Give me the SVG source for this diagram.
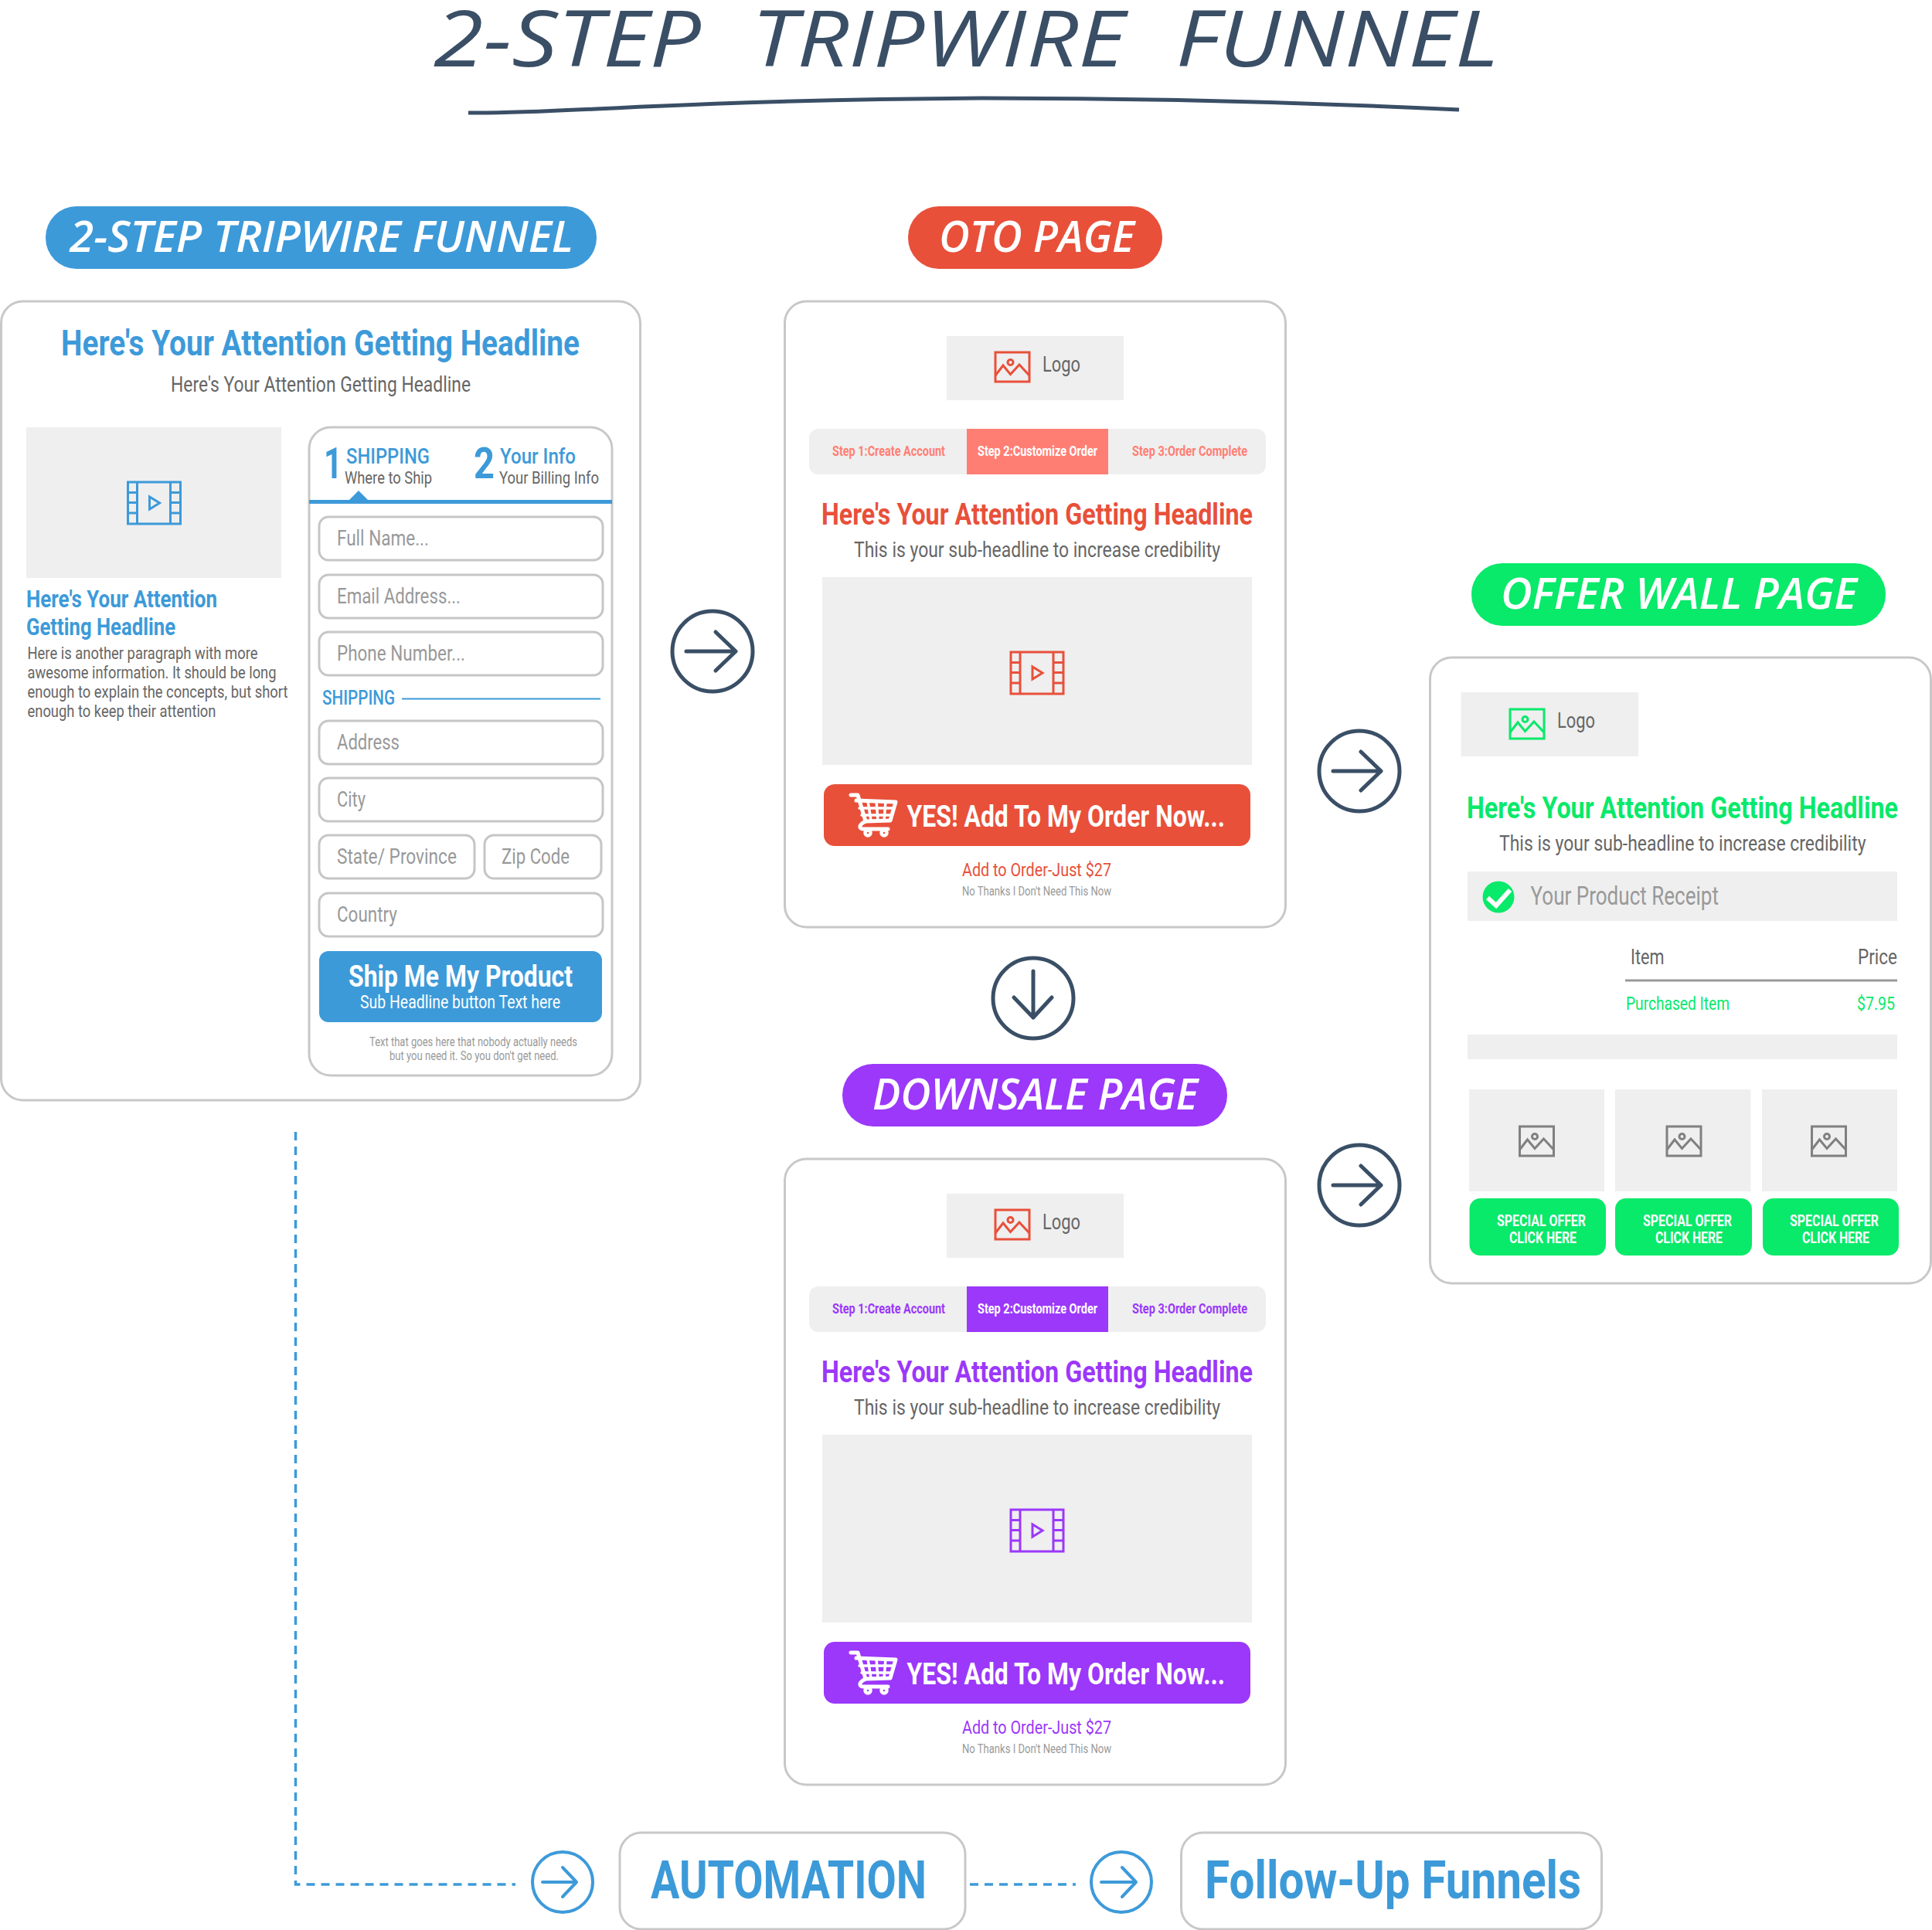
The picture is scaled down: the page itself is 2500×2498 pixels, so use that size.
<svg xmlns="http://www.w3.org/2000/svg" width="2500" height="2498" viewBox="0 0 2500 2498">
<style>
text{font-family:Roboto,"Liberation Sans",sans-serif;font-weight:400}
.hand{font-family:"Open Sans","Liberation Sans",sans-serif;font-style:italic;font-weight:600;fill:#fff}
.card{fill:#fff;stroke:#c8c8c8;stroke-width:3}
.field{fill:#fff;stroke:#c6c6c6;stroke-width:3}
.gray{fill:#efefef}
.b{font-weight:700}.m{font-weight:500}.l{font-weight:300}
.ph{fill:#999;font-size:28px}
.dk{fill:#666}
.blue{fill:#3d9ad9}.red{fill:#e8503a}.pur{fill:#9b38fa}.grn{fill:#09e96a}.sal{fill:#ff7e73}.wht{fill:#fff}.mid{fill:#999}
.ico{fill:none;stroke:currentColor;stroke-width:3}
.arrow{fill:none;stroke:#3a4f66;stroke-width:5;stroke-linecap:round;stroke-linejoin:round}
.arrowb{fill:none;stroke:#3d9ad9;stroke-width:4;stroke-linecap:round;stroke-linejoin:round}
.dash{fill:none;stroke:#3d9ad9;stroke-width:3.5;stroke-dasharray:11 8}
</style>
<defs>
<symbol id="film" viewBox="0 0 70 56" width="70" height="56" overflow="visible">
<g class="ico"><rect x="1" y="1" width="68" height="54"/><path d="M13 1V55M56 1V55M1 14.500H13M1 27.500H13M1 41H13M56 14.500H69M56 27.500H69M56 41H69"/><path d="M29 20V36L42 28Z"/></g>
</symbol>
<symbol id="pic" viewBox="0 0 46 40" width="46" height="40" overflow="visible">
<g class="ico"><rect x="1" y="1" width="44" height="38"/><circle cx="20.500" cy="14" r="3.500"/><path d="M1 31L11 18L20.500 29.500L32 17L45 31"/></g>
</symbol>
<symbol id="cart" viewBox="0 0 62 57" width="62" height="57" overflow="visible">
<g fill="none" stroke="#fff" stroke-linecap="round" stroke-linejoin="round"><path stroke-width="5" d="M2 3H11L21 37Q13 41 14 45Q15 47 18 47H50"/><path stroke-width="5" d="M9 10L60 12L53 36L21 37"/><path stroke-width="3.500" d="M13 20H57M16 29H55M24 11L28 36M35 11L37 36M47 11L45 36"/><circle stroke-width="4.500" cx="24" cy="52" r="3.500"/><circle stroke-width="4.500" cx="45" cy="52" r="3.500"/></g>
</symbol>
</defs>
<rect width="2500" height="2498" fill="#fff"/>

<g id="title">
<text x="561" y="86" font-size="100" textLength="1378" lengthAdjust="spacingAndGlyphs" class="hand" style="fill:#3a4f66;font-weight:500" word-spacing="30">2-STEP TRIPWIRE FUNNEL</text>
<path d="M606 146C720 148 860 130 1270 127C1500 127 1700 133 1888 142" fill="none" stroke="#3a4f66" stroke-width="5"/>
</g>

<g id="label-tripwire"><rect x="59" y="267" width="713" height="81" rx="40" class="blue"/>
<text x="90" y="326" font-size="56" textLength="652" lengthAdjust="spacingAndGlyphs" class="hand">2-STEP TRIPWIRE FUNNEL</text></g>
<g id="label-oto"><rect x="1175" y="267" width="329" height="81" rx="40" class="red"/>
<text x="1215" y="326" font-size="56" textLength="253" lengthAdjust="spacingAndGlyphs" class="hand">OTO PAGE</text></g>
<g id="label-downsale"><rect x="1090" y="1377" width="498" height="81" rx="40" class="pur"/>
<text x="1129" y="1436" font-size="56" textLength="421" lengthAdjust="spacingAndGlyphs" class="hand">DOWNSALE PAGE</text></g>
<g id="label-offer"><rect x="1904" y="729" width="536" height="81" rx="40" class="grn"/>
<text x="1942" y="788" font-size="56" textLength="461" lengthAdjust="spacingAndGlyphs" class="hand">OFFER WALL PAGE</text></g>

<g id="connectors">
<circle cx="922" cy="843" r="52" class="arrow"/><path d="M888 843H952M926 818L952 843L926 868" class="arrow"/>
<circle cx="1759" cy="998" r="52" class="arrow"/><path d="M1725 998H1787M1761 973L1787 998L1761 1023" class="arrow"/>
<circle cx="1759" cy="1534" r="52" class="arrow"/><path d="M1725 1534H1787M1761 1509L1787 1534L1761 1559" class="arrow"/>
<circle cx="1337" cy="1292" r="52" class="arrow"/><path d="M1337 1257V1317M1312 1291L1337 1317L1361 1291" class="arrow"/>
<path d="M382.500 1465V2439H667" class="dash"/>
<path d="M1255 2439H1392" class="dash"/>
<circle cx="728" cy="2436" r="39" class="arrowb"/><path d="M702 2436H746M728 2417L746 2436L728 2455" class="arrowb"/>
<circle cx="1451" cy="2436" r="39" class="arrowb"/><path d="M1425 2436H1470M1452 2417L1470 2436L1452 2455" class="arrowb"/>
</g>

<g id="page-tripwire">
<rect x="1.500" y="390" width="827" height="1034" rx="28" class="card"/>
<text x="79" y="460" font-size="46" textLength="671" lengthAdjust="spacingAndGlyphs" class="b blue">Here's Your Attention Getting Headline</text>
<text x="221" y="507" font-size="28" textLength="388" lengthAdjust="spacingAndGlyphs" class="dk">Here's Your Attention Getting Headline</text>
<rect x="34" y="553" width="330" height="195" class="gray"/>
<use href="#film" x="164.500" y="623" style="color:#3d9ad9"/>
<text x="34" y="786" font-size="31" textLength="247" lengthAdjust="spacingAndGlyphs" class="b blue">Here's Your Attention</text>
<text x="34" y="822" font-size="31" textLength="193" lengthAdjust="spacingAndGlyphs" class="b blue">Getting Headline</text>
<text x="35.500" y="853" font-size="22" textLength="298" lengthAdjust="spacingAndGlyphs" class="dk">Here is another paragraph with more</text>
<text x="35.500" y="878" font-size="22" textLength="322" lengthAdjust="spacingAndGlyphs" class="dk">awesome information. It should be long</text>
<text x="35.500" y="903" font-size="22" textLength="337" lengthAdjust="spacingAndGlyphs" class="dk">enough to explain the concepts, but short</text>
<text x="35.500" y="928" font-size="22" textLength="244" lengthAdjust="spacingAndGlyphs" class="dk">enough to keep their attention</text>
</g>

<g id="form">
<rect x="400" y="553" width="392" height="839" rx="28" class="card"/>
<rect x="400" y="647" width="392" height="5" class="blue"/>
<path d="M452 647L464 635L476 647Z" class="blue"/>
<text x="419" y="619" font-size="56" textLength="24" lengthAdjust="spacingAndGlyphs" class="b blue">1</text>
<text x="448" y="600" font-size="27" textLength="108" lengthAdjust="spacingAndGlyphs" class="m blue">SHIPPING</text>
<text x="446" y="625.500" font-size="22" textLength="113" lengthAdjust="spacingAndGlyphs" class="dk">Where to Ship</text>
<text x="613" y="619" font-size="56" textLength="27" lengthAdjust="spacingAndGlyphs" class="b blue">2</text>
<text x="647" y="600" font-size="27" textLength="98" lengthAdjust="spacingAndGlyphs" class="m blue">Your Info</text>
<text x="646" y="625.500" font-size="22" textLength="129" lengthAdjust="spacingAndGlyphs" class="dk">Your Billing Info</text>
<rect x="413" y="669" width="367" height="56" rx="12" class="field"/>
<text x="436" y="706" textLength="119" lengthAdjust="spacingAndGlyphs" class="ph">Full Name...</text>
<rect x="413" y="744" width="367" height="56" rx="12" class="field"/>
<text x="436" y="781" textLength="160" lengthAdjust="spacingAndGlyphs" class="ph">Email Address...</text>
<rect x="413" y="818" width="367" height="56" rx="12" class="field"/>
<text x="436" y="855" textLength="166" lengthAdjust="spacingAndGlyphs" class="ph">Phone Number...</text>
<text x="417" y="912" font-size="25" textLength="94" lengthAdjust="spacingAndGlyphs" class="m blue">SHIPPING</text>
<path d="M520 904.500H777" stroke="#3d9ad9" stroke-width="2" fill="none"/>
<rect x="413" y="933" width="367" height="56" rx="12" class="field"/>
<text x="436" y="970" textLength="81" lengthAdjust="spacingAndGlyphs" class="ph">Address</text>
<rect x="413" y="1007" width="367" height="56" rx="12" class="field"/>
<text x="436" y="1044" textLength="37" lengthAdjust="spacingAndGlyphs" class="ph">City</text>
<rect x="413" y="1081" width="201" height="56" rx="12" class="field"/>
<text x="436" y="1118" textLength="155" lengthAdjust="spacingAndGlyphs" class="ph">State/ Province</text>
<rect x="627" y="1081" width="151" height="56" rx="12" class="field"/>
<text x="649" y="1118" textLength="88" lengthAdjust="spacingAndGlyphs" class="ph">Zip Code</text>
<rect x="413" y="1156" width="367" height="56" rx="12" class="field"/>
<text x="436" y="1193" textLength="78" lengthAdjust="spacingAndGlyphs" class="ph">Country</text>
<rect x="413" y="1231" width="366" height="92" rx="12" class="blue"/>
<text x="451" y="1277" font-size="38" textLength="290" lengthAdjust="spacingAndGlyphs" class="b wht">Ship Me My Product</text>
<text x="466" y="1305" font-size="24" textLength="259" lengthAdjust="spacingAndGlyphs" class="wht">Sub Headline button Text here</text>
<text x="478" y="1354" font-size="16" textLength="269" lengthAdjust="spacingAndGlyphs" class="mid">Text that goes here that nobody actually needs</text>
<text x="504" y="1372" font-size="16" textLength="219" lengthAdjust="spacingAndGlyphs" class="mid">but you need it. So you don't get need.</text>
</g>

<g id="page-oto">
<rect x="1015.500" y="390" width="648" height="810" rx="28" class="card"/>
<rect x="1225" y="435" width="229" height="83" class="gray"/>
<use href="#pic" x="1287" y="455" style="color:#e8503a"/>
<text x="1349" y="481" font-size="28" textLength="49" lengthAdjust="spacingAndGlyphs" class="dk">Logo</text>
<rect x="1047" y="555" width="591" height="59" rx="12" class="gray"/>
<rect x="1251" y="555" width="183" height="59" class="sal"/>
<text x="1077" y="590" font-size="18" textLength="146" lengthAdjust="spacingAndGlyphs" class="b sal">Step 1:Create Account</text>
<text x="1265" y="590" font-size="18" textLength="155" lengthAdjust="spacingAndGlyphs" class="b wht">Step 2:Customize Order</text>
<text x="1465" y="590" font-size="18" textLength="149" lengthAdjust="spacingAndGlyphs" class="b sal">Step 3:Order Complete</text>
<text x="1063" y="679" font-size="38" textLength="558" lengthAdjust="spacingAndGlyphs" class="b red">Here's Your Attention Getting Headline</text>
<text x="1105" y="721" font-size="28" textLength="474" lengthAdjust="spacingAndGlyphs" class="dk">This is your sub-headline to increase credibility</text>
<rect x="1064" y="747" width="556" height="243" class="gray"/>
<use href="#film" x="1307" y="843" style="color:#e8503a"/>
<rect x="1066" y="1015" width="552" height="80" rx="14" class="red"/>
<use href="#cart" x="1099" y="1026"/>
<text x="1173.500" y="1070" font-size="38" textLength="411.500" lengthAdjust="spacingAndGlyphs" class="b wht">YES! Add To My Order Now...</text>
<text x="1245" y="1134" font-size="24" textLength="193" lengthAdjust="spacingAndGlyphs" class="red">Add to Order-Just $27</text>
<text x="1245" y="1159" font-size="16" textLength="193" lengthAdjust="spacingAndGlyphs" class="mid">No Thanks I Don't Need This Now</text>
</g>

<g id="page-downsale">
<rect x="1015.500" y="1500" width="648" height="810" rx="28" class="card"/>
<rect x="1225" y="1545" width="229" height="83" class="gray"/>
<use href="#pic" x="1287" y="1565" style="color:#e8503a"/>
<text x="1349" y="1591" font-size="28" textLength="49" lengthAdjust="spacingAndGlyphs" class="dk">Logo</text>
<rect x="1047" y="1665" width="591" height="59" rx="12" class="gray"/>
<rect x="1251" y="1665" width="183" height="59" class="pur"/>
<text x="1077" y="1700" font-size="18" textLength="146" lengthAdjust="spacingAndGlyphs" class="b pur">Step 1:Create Account</text>
<text x="1265" y="1700" font-size="18" textLength="155" lengthAdjust="spacingAndGlyphs" class="b wht">Step 2:Customize Order</text>
<text x="1465" y="1700" font-size="18" textLength="149" lengthAdjust="spacingAndGlyphs" class="b pur">Step 3:Order Complete</text>
<text x="1063" y="1789" font-size="38" textLength="558" lengthAdjust="spacingAndGlyphs" class="b pur">Here's Your Attention Getting Headline</text>
<text x="1105" y="1831" font-size="28" textLength="474" lengthAdjust="spacingAndGlyphs" class="dk">This is your sub-headline to increase credibility</text>
<rect x="1064" y="1857" width="556" height="243" class="gray"/>
<use href="#film" x="1307" y="1953" style="color:#9b38fa"/>
<rect x="1066" y="2125" width="552" height="80" rx="14" class="pur"/>
<use href="#cart" x="1099" y="2136"/>
<text x="1173.500" y="2180" font-size="38" textLength="411.500" lengthAdjust="spacingAndGlyphs" class="b wht">YES! Add To My Order Now...</text>
<text x="1245" y="2244" font-size="24" textLength="193" lengthAdjust="spacingAndGlyphs" class="pur">Add to Order-Just $27</text>
<text x="1245" y="2269" font-size="16" textLength="193" lengthAdjust="spacingAndGlyphs" class="mid">No Thanks I Don't Need This Now</text>
</g>

<g id="page-offer">
<rect x="1850.500" y="851" width="648" height="810" rx="28" class="card"/>
<rect x="1890.500" y="896" width="229.500" height="83" class="gray"/>
<use href="#pic" x="1953" y="917" style="color:#09e96a"/>
<text x="2015" y="942" font-size="28" textLength="49" lengthAdjust="spacingAndGlyphs" class="dk">Logo</text>
<text x="1898" y="1059" font-size="38" textLength="558" lengthAdjust="spacingAndGlyphs" class="b grn">Here's Your Attention Getting Headline</text>
<text x="1940" y="1101" font-size="28" textLength="474.500" lengthAdjust="spacingAndGlyphs" class="dk">This is your sub-headline to increase credibility</text>
<rect x="1899" y="1128" width="556" height="64" class="gray"/>
<circle cx="1939" cy="1161" r="20.500" class="grn"/>
<path d="M1925 1162L1936 1172L1954 1152" fill="none" stroke="#fff" stroke-width="6"/>
<text x="1980.500" y="1171" font-size="33" textLength="243.500" lengthAdjust="spacingAndGlyphs" class="mid">Your Product Receipt</text>
<text x="2110" y="1248" font-size="27" textLength="43.500" lengthAdjust="spacingAndGlyphs" class="dk">Item</text>
<text x="2404" y="1248" font-size="27" textLength="51" lengthAdjust="spacingAndGlyphs" class="dk">Price</text>
<path d="M2103 1269H2455" stroke="#999" stroke-width="3" fill="none"/>
<text x="2104" y="1307" font-size="24" textLength="134" lengthAdjust="spacingAndGlyphs" class="grn">Purchased Item</text>
<text x="2403" y="1307" font-size="24" textLength="49" lengthAdjust="spacingAndGlyphs" class="grn">$7.95</text>
<rect x="1899" y="1339" width="556" height="32" class="gray"/>
<rect x="1901" y="1410" width="175" height="132" class="gray"/>
<rect x="2090" y="1410" width="175.500" height="132" class="gray"/>
<rect x="2280" y="1410" width="175" height="132" class="gray"/>
<use href="#pic" x="1965.500" y="1457" style="color:#808080"/>
<use href="#pic" x="2156" y="1457" style="color:#808080"/>
<use href="#pic" x="2343.500" y="1457" style="color:#808080"/>
<rect x="1901.500" y="1551" width="176.500" height="74" rx="14" class="grn"/>
<rect x="2090" y="1551" width="177" height="74" rx="14" class="grn"/>
<rect x="2281" y="1551" width="176" height="74" rx="14" class="grn"/>
<text x="1937" y="1587" font-size="20" textLength="115" lengthAdjust="spacingAndGlyphs" class="b wht">SPECIAL OFFER</text>
<text x="1953" y="1609" font-size="20" textLength="87" lengthAdjust="spacingAndGlyphs" class="b wht">CLICK HERE</text>
<text x="2126" y="1587" font-size="20" textLength="115" lengthAdjust="spacingAndGlyphs" class="b wht">SPECIAL OFFER</text>
<text x="2142" y="1609" font-size="20" textLength="87" lengthAdjust="spacingAndGlyphs" class="b wht">CLICK HERE</text>
<text x="2316" y="1587" font-size="20" textLength="115" lengthAdjust="spacingAndGlyphs" class="b wht">SPECIAL OFFER</text>
<text x="2332" y="1609" font-size="20" textLength="87" lengthAdjust="spacingAndGlyphs" class="b wht">CLICK HERE</text>
</g>

<g id="automation">
<rect x="802" y="2372" width="447" height="125" rx="28" class="card"/>
<text x="842" y="2457" font-size="68" textLength="357" lengthAdjust="spacingAndGlyphs" class="b blue">AUTOMATION</text>
</g>
<g id="follow-up">
<rect x="1528.500" y="2372" width="544" height="125" rx="28" class="card"/>
<text x="1559" y="2457" font-size="68" textLength="487" lengthAdjust="spacingAndGlyphs" class="b blue">Follow-Up Funnels</text>
</g>
</svg>
